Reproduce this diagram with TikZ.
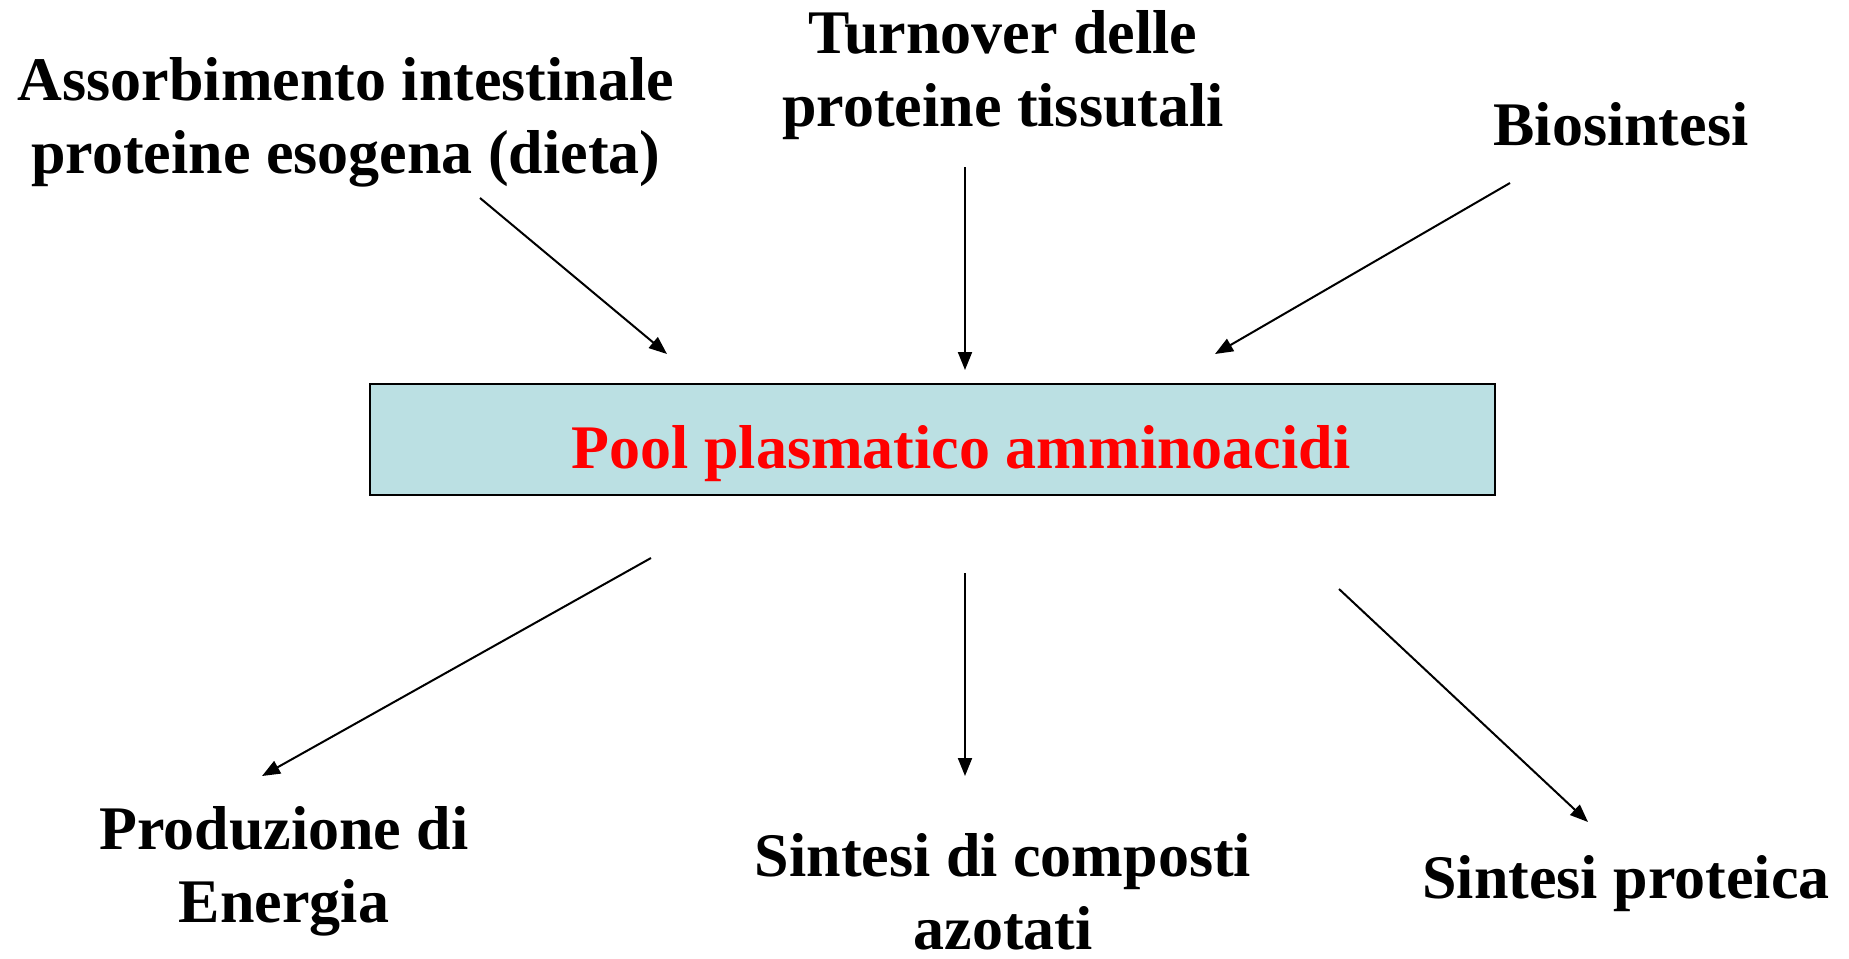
\documentclass[tikz,border=0pt]{standalone}
\usepackage{fontspec}
\setmainfont{Liberation Serif}
\usetikzlibrary{arrows.meta}
\definecolor{boxfill}{RGB}{187,224,227}
\definecolor{poolred}{RGB}{255,0,0}
\tikzset{
  lbl/.style={anchor=base, align=center, inner sep=0pt, font=\fontsize{62}{73}\selectfont\bfseries},
  poolbox/.style={draw=black, line width=2.5pt, fill=boxfill},
  flow/.style={line width=2pt, -{Triangle[length=18pt,width=14pt]}}
}
\begin{document}
\begin{tikzpicture}[x=1pt,y=-1pt]
\useasboundingbox (0,0) rectangle (1849,958);
% central box
\path[poolbox] (370,384) rectangle (1495,495);
\node[lbl, text=poolred] (pool) at (961,468) {Pool plasmatico amminoacidi};
% labels (base anchor = baseline of the last line)
\node[lbl] (assorb) at (346,173) {Assorbimento intestinale\\proteine esogena (dieta)};
\node[lbl] (turn) at (1003,126) {Turnover delle\\proteine tissutali};
\node[lbl] (bios) at (1621,145) {Biosintesi};
\node[lbl] (prod) at (284,922) {Produzione di\\Energia};
\node[lbl] (comp) at (1003,949) {Sintesi di composti\\azotati};
\node[lbl] (prot) at (1626,898) {Sintesi proteica};
% arrow endpoints
\coordinate (a1s) at (480,198);  \coordinate (a1e) at (667,354);
\coordinate (a2s) at (965,167);  \coordinate (a2e) at (965,370);
\coordinate (a3s) at (1510,183); \coordinate (a3e) at (1215,354);
\coordinate (a4s) at (651,558);  \coordinate (a4e) at (262,776);
\coordinate (a5s) at (965,573);  \coordinate (a5e) at (965,776);
\coordinate (a6s) at (1339,589); \coordinate (a6e) at (1588,822);
\draw[flow] (a1s) -- (a1e);
\draw[flow] (a2s) -- (a2e);
\draw[flow] (a3s) -- (a3e);
\draw[flow] (a4s) -- (a4e);
\draw[flow] (a5s) -- (a5e);
\draw[flow] (a6s) -- (a6e);
\end{tikzpicture}
\end{document}
